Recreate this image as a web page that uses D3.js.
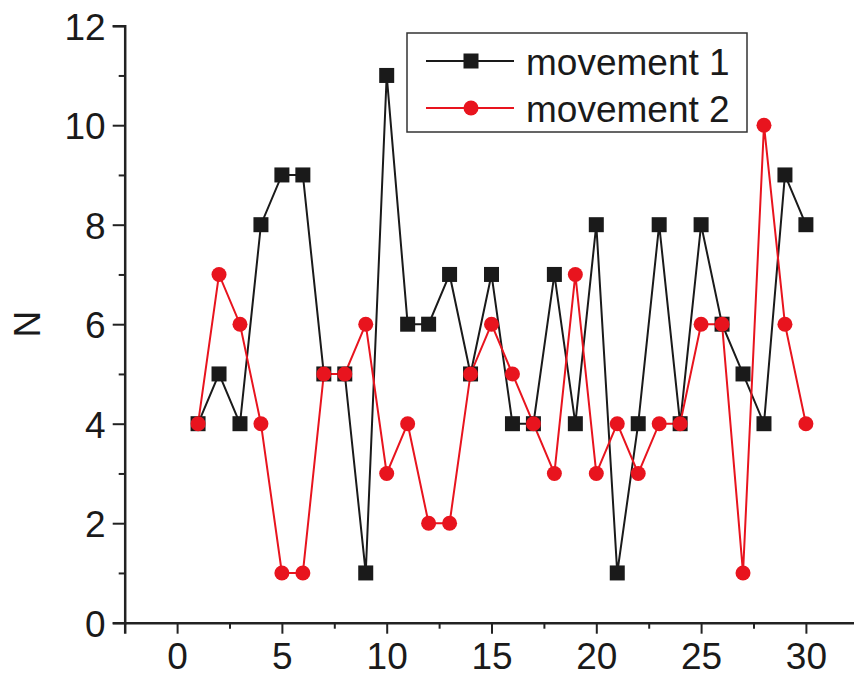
<!DOCTYPE html>
<html>
<head>
<meta charset="utf-8">
<script src="https://cdn.jsdelivr.net/npm/d3@7"></script>
<style>
  body { margin: 0; background: #fff; }
  svg text { font-family: "Liberation Sans", Arial, sans-serif; fill: #1a1a1a; }
</style>
</head>
<body>
<div id="chart"></div>
<script>
// data
const xs = d3.range(1, 31);
const movement1 = [4, 5, 4, 8, 9, 9, 5, 5, 1, 11, 6, 6, 7, 5, 7, 4, 4, 7, 4, 8, 1, 4, 8, 4, 8, 6, 5, 4, 9, 8];
const movement2 = [4, 7, 6, 4, 1, 1, 5, 5, 6, 3, 4, 2, 2, 5, 6, 5, 4, 3, 7, 3, 4, 3, 4, 4, 6, 6, 1, 10, 6, 4];
const seriesNames = ['movement 1', 'movement 2'];
const seriesColors = ['#1a1a1a', '#e8141e'];
const xTicks = [0, 5, 10, 15, 20, 25, 30];
const yTicks = [0, 2, 4, 6, 8, 10, 12];

const width = 854, height = 682;
const svg = d3.select('#chart').append('svg')
  .attr('width', width)
  .attr('height', height);

const x = d3.scaleLinear().domain([-2.5, 32.5]).range([124.7, 858.3]);
const y = d3.scaleLinear().domain([0, 12]).range([622.7, 25.7]);

// axes
const xAxis = svg.append('g')
  .attr('transform', `translate(0,${y(0)})`)
  .call(d3.axisBottom(x).tickValues(xTicks).tickSize(11).tickPadding(8).tickFormat(d3.format('d')));
svg.append('g')
  .attr('transform', `translate(0,${y(0)})`)
  .call(d3.axisBottom(x).tickValues(d3.range(2.5, 32.5, 5)).tickSize(6).tickFormat(''))
  .select('.domain').remove();

const yAxis = svg.append('g')
  .attr('transform', `translate(${x(-2.5)},0)`)
  .call(d3.axisLeft(y).tickValues(yTicks).tickSize(12).tickPadding(7).tickFormat(d3.format('d')));
svg.append('g')
  .attr('transform', `translate(${x(-2.5)},0)`)
  .call(d3.axisLeft(y).tickValues(d3.range(1, 12, 2)).tickSize(6).tickFormat(''))
  .select('.domain').remove();

svg.selectAll('.domain').attr('stroke', '#222').attr('stroke-width', 2.5);
svg.selectAll('.tick line').attr('stroke', '#222').attr('stroke-width', 2);
svg.selectAll('.tick text')
  .style('font-size', '37px')
  .style('font-family', '"Liberation Sans", Arial, sans-serif')
  .attr('fill', '#1a1a1a');
xAxis.selectAll('.tick text').attr('dy', '0.73em');
yAxis.selectAll('.tick text').attr('dy', '0.36em');

// y axis title
svg.append('text')
  .attr('transform', `translate(40,${y(6)}) rotate(-90)`)
  .attr('text-anchor', 'middle')
  .style('font-size', '37px')
  .text('N');

// lines
const line = d3.line()
  .x((d, i) => x(xs[i]))
  .y(d => y(d));

const series = [movement1, movement2];
series.forEach((vals, s) => {
  svg.append('path')
    .datum(vals)
    .attr('fill', 'none')
    .attr('stroke', seriesColors[s])
    .attr('stroke-width', 2)
    .attr('d', line);
});

// markers
const sq = 15;
svg.selectAll('.m1')
  .data(movement1)
  .enter().append('rect')
  .attr('class', 'm1')
  .attr('x', (d, i) => x(xs[i]) - sq / 2)
  .attr('y', d => y(d) - sq / 2)
  .attr('width', sq)
  .attr('height', sq)
  .attr('fill', seriesColors[0]);

svg.selectAll('.m2')
  .data(movement2)
  .enter().append('circle')
  .attr('class', 'm2')
  .attr('cx', (d, i) => x(xs[i]))
  .attr('cy', d => y(d))
  .attr('r', 7.5)
  .attr('fill', seriesColors[1]);

// legend
const legend = svg.append('g');
legend.append('rect')
  .attr('x', 407).attr('y', 33)
  .attr('width', 340).attr('height', 99)
  .attr('fill', '#fff')
  .attr('stroke', '#333')
  .attr('stroke-width', 1.5);

seriesNames.forEach((name, i) => {
  const ly = 61 + i * 47;
  legend.append('line')
    .attr('x1', 426).attr('x2', 514)
    .attr('y1', ly).attr('y2', ly)
    .attr('stroke', seriesColors[i])
    .attr('stroke-width', 2);
  if (i === 0) {
    legend.append('rect')
      .attr('x', 471 - sq / 2).attr('y', ly - sq / 2)
      .attr('width', sq).attr('height', sq)
      .attr('fill', seriesColors[i]);
  } else {
    legend.append('circle')
      .attr('cx', 471).attr('cy', ly)
      .attr('r', 7.5)
      .attr('fill', seriesColors[i]);
  }
  legend.append('text')
    .attr('x', 526)
    .attr('y', ly + 14)
    .style('font-size', '37px')
    .text(name);
});
</script>
</body>
</html>
